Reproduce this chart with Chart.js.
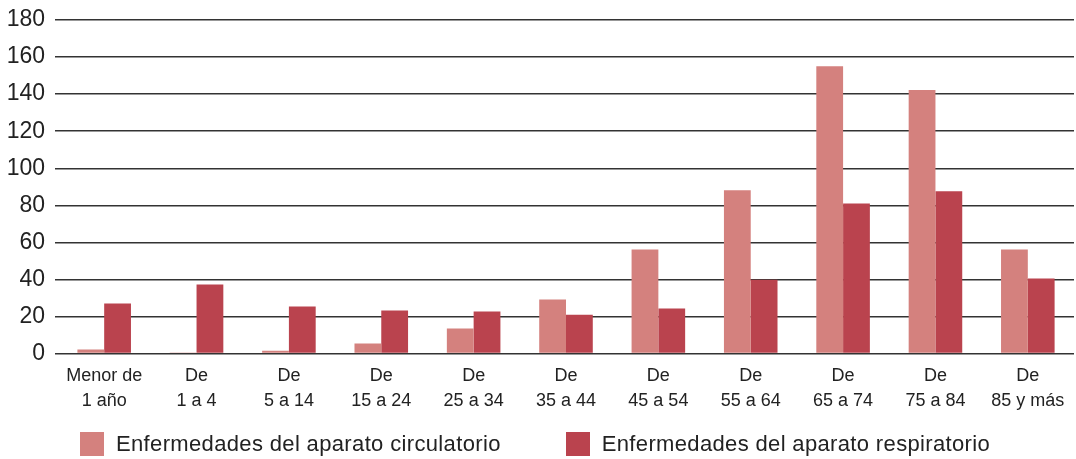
<!DOCTYPE html>
<html>
<head>
<meta charset="utf-8">
<script src="https://cdn.jsdelivr.net/npm/chart.js@4.4.1/dist/chart.umd.min.js"></script>
<style>
  html, body { margin: 0; padding: 0; background: #fff; }
  #wrap { position: relative; width: 1076px; height: 459px; }
  #legend { position: absolute; left: 80px; top: 431px; display: flex; font-family: 'Liberation Sans', Arial, sans-serif; font-size: 22px; letter-spacing: 0.35px; color: #222; }
  #legend .item { display: flex; align-items: center; margin-right: 65px; }
  #legend .box { width: 24px; height: 24px; margin-right: 12px; }
</style>
</head>
<body>
<div id="wrap">
  <canvas id="chartEdad" width="1076" height="459"></canvas>
  <div id="legend"></div>
</div>
<script>
( () => {

  let categorias = [['Menor de', '1 año'], ['De', '1 a 4'], ['De', '5 a 14'], ['De', '15 a 24'], ['De', '25 a 34'], ['De', '35 a 44'], ['De', '45 a 54'], ['De', '55 a 64'], ['De', '65 a 74'], ['De', '75 a 84'], ['De', '85 y más']];
  let circulatorio = [2.2, 0.6, 1.6, 5.4, 13.5, 29.2, 56.2, 88.1, 155.1, 142.2, 56.2];
  let respiratorio = [27, 37.3, 25.4, 23.2, 22.7, 21, 24.3, 39.8, 81, 87.6, 40.5];
  let ticksY = [0, 20, 40, 60, 80, 100, 120, 140, 160, 180];

  const ctx = document.getElementById('chartEdad').getContext('2d');

  const chart = new Chart(ctx, {
    type: 'bar',
    data: {
      labels: categorias,
      datasets: [{
        label: 'Enfermedades del aparato circulatorio',
        data: circulatorio,
        backgroundColor: '#d4817e'
      }, {
        label: 'Enfermedades del aparato respiratorio',
        data: respiratorio,
        backgroundColor: '#ba434e'
      }]
    },
    options: {
      responsive: false,
      animation: false,
      layout: { padding: { left: 0, right: 2, top: 0, bottom: 43 } },
      datasets: {
        bar: { barPercentage: 1, categoryPercentage: 0.58 }
      },
      plugins: {
        legend: { display: false },
        tooltip: { enabled: false }
      },
      scales: {
        x: {
          grid: { display: false },
          border: { display: false },
          ticks: {
            padding: 2,
            color: '#222',
            font: { family: "'Liberation Sans Narrow', 'Liberation Sans', sans-serif", size: 18, lineHeight: 1.4 }
          }
        },
        y: {
          min: 0,
          max: 180,
          afterBuildTicks: (axis) => { axis.ticks = ticksY.map(v => ({ value: v })); },
          afterFit: (axis) => { axis.width = 58; axis.paddingTop = 20; },
          grid: { color: '#333', lineWidth: 1.5, tickLength: 3 },
          border: { display: false },
          ticks: {
            padding: 10,
            color: '#222',
            font: { family: "'Liberation Sans', sans-serif", size: 23, lineHeight: 1 }
          }
        }
      }
    }
  });

  // leyenda en HTML para poder fijar la separacion entre elementos
  let legend = document.getElementById('legend');
  chart.data.datasets.forEach(ds => {
    let item = document.createElement('div');
    item.className = 'item';
    let box = document.createElement('span');
    box.className = 'box';
    box.style.background = ds.backgroundColor;
    let txt = document.createElement('span');
    txt.textContent = ds.label;
    item.appendChild(box);
    item.appendChild(txt);
    legend.appendChild(item);
  });

})();
</script>
</body>
</html>
